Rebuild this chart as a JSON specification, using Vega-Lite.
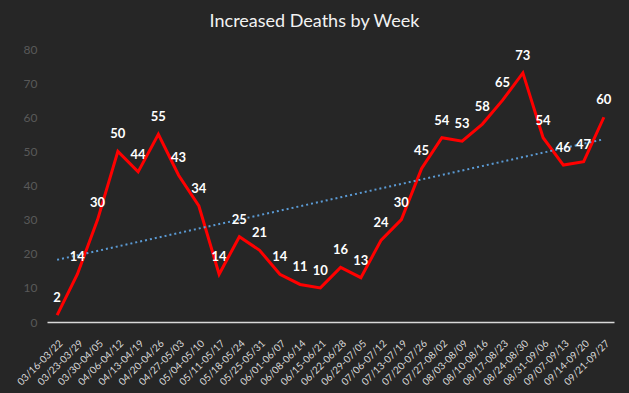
{
  "$schema": "https://vega.github.io/schema/vega-lite/v6.json",
  "width": 567,
  "height": 273,
  "autosize": "none",
  "padding": {"left": 47, "top": 49, "right": 15, "bottom": 71},
  "background": "#262626",
  "title": {
    "text": "Increased Deaths by Week",
    "font": "Lato",
    "fontSize": 18,
    "fontWeight": "normal",
    "color": "#f2f2f2",
    "anchor": "middle",
    "dx": -16,
    "offset": 12
  },
  "config": {
    "view": {"stroke": null},
    "font": "Lato"
  },
  "datasets": {
    "weeks": [
      {"n": 1, "week": "03/16-03/22", "deaths": 2},
      {"n": 2, "week": "03/23-03/29", "deaths": 14},
      {"n": 3, "week": "03/30-04/05", "deaths": 30},
      {"n": 4, "week": "04/06-04/12", "deaths": 50},
      {"n": 5, "week": "04/13-04/19", "deaths": 44},
      {"n": 6, "week": "04/20-04/26", "deaths": 55},
      {"n": 7, "week": "04/27-05/03", "deaths": 43},
      {"n": 8, "week": "05/04-05/10", "deaths": 34},
      {"n": 9, "week": "05/11-05/17", "deaths": 14},
      {"n": 10, "week": "05/18-05/24", "deaths": 25},
      {"n": 11, "week": "05/25-05/31", "deaths": 21},
      {"n": 12, "week": "06/01-06/07", "deaths": 14},
      {"n": 13, "week": "06/08-06/14", "deaths": 11},
      {"n": 14, "week": "06/15-06/21", "deaths": 10},
      {"n": 15, "week": "06/22-06/28", "deaths": 16},
      {"n": 16, "week": "06/29-07/05", "deaths": 13},
      {"n": 17, "week": "07/06-07/12", "deaths": 24},
      {"n": 18, "week": "07/13-07/19", "deaths": 30},
      {"n": 19, "week": "07/20-07/26", "deaths": 45},
      {"n": 20, "week": "07/27-08/02", "deaths": 54},
      {"n": 21, "week": "08/03-08/09", "deaths": 53},
      {"n": 22, "week": "08/10-08/16", "deaths": 58},
      {"n": 23, "week": "08/17-08/23", "deaths": 65},
      {"n": 24, "week": "08/24-08/30", "deaths": 73},
      {"n": 25, "week": "08/31-09/06", "deaths": 54},
      {"n": 26, "week": "09/07-09/13", "deaths": 46},
      {"n": 27, "week": "09/14-09/20", "deaths": 47},
      {"n": 28, "week": "09/21-09/27", "deaths": 60}
    ]
  },
  "data": {"name": "weeks"},
  "encoding": {
    "x": {
      "field": "week",
      "type": "ordinal",
      "sort": null,
      "scale": {"type": "point", "padding": 0.5},
      "axis": {
        "title": null,
        "labelAngle": -45,
        "labelColor": "#d9d9d9",
        "labelFontSize": 10,
        "labelPadding": 16,
        "labelDx": 6,
        "ticks": false,
        "domainColor": "#d9d9d9",
        "domainWidth": 1.5,
        "grid": false
      }
    },
    "y": {
      "field": "deaths",
      "type": "quantitative",
      "scale": {"domain": [0, 80], "nice": false},
      "axis": {
        "title": null,
        "values": [0, 10, 20, 30, 40, 50, 60, 70, 80],
        "labelColor": "#595959",
        "labelFontSize": 12,
        "labelPadding": 10,
        "domain": false,
        "ticks": false,
        "grid": false
      }
    }
  },
  "layer": [
    {
      "mark": {"type": "line", "color": "#ff0000", "strokeWidth": 3}
    },
    {
      "transform": [
        {"regression": "deaths", "on": "n"},
        {"lookup": "n", "from": {"data": {"name": "weeks"}, "key": "n", "fields": ["week"]}},
        {"filter": "datum.week != null"}
      ],
      "mark": {"type": "line", "color": "#5b9bd5", "strokeWidth": 2, "strokeDash": [2, 3]}
    },
    {
      "mark": {"type": "text", "color": "#ffffff", "fontWeight": "bold", "fontSize": 13, "dy": -17, "baseline": "middle"},
      "encoding": {"text": {"field": "deaths", "type": "quantitative"}}
    }
  ]
}
